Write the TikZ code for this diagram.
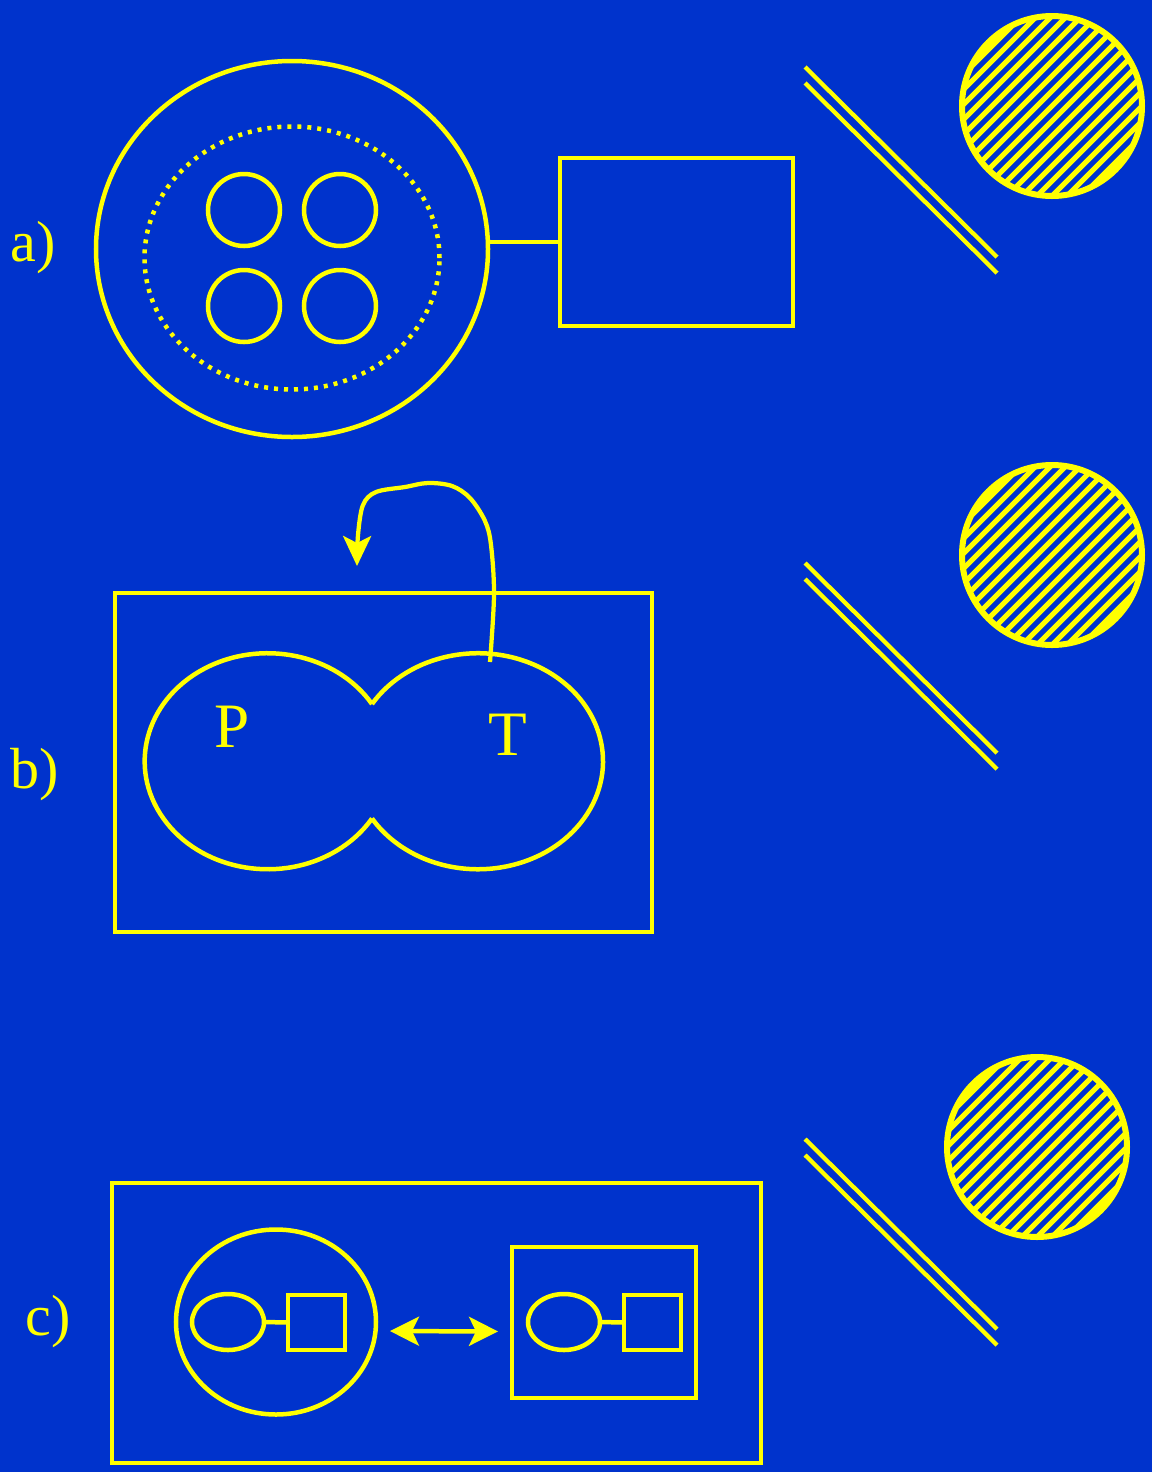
\documentclass[tikz,border=0pt]{standalone}
\usepackage{fontspec}
\setmainfont{Liberation Serif}
\usetikzlibrary{shapes.geometric,arrows.meta}
\definecolor{slideblue}{RGB}{0,51,204}
\definecolor{sunyellow}{RGB}{255,255,0}
\tikzset{
  ln/.style={draw=sunyellow, line width=0.9mm},
  oval/.style={ellipse, ln, inner sep=0pt, outer sep=0pt},
  ring/.style={circle, ln, inner sep=0pt, outer sep=0pt},
  boxed/.style={rectangle, ln, inner sep=0pt, outer sep=0pt},
  lbl/.style={text=sunyellow, font=\fontsize{33}{36}\selectfont},
  big/.style={text=sunyellow, font=\fontsize{36}{40}\selectfont},
  tip/.style={-{Stealth[length=6mm, width=5.6mm, inset=1.4mm]}},
}
\begin{document}
\begin{tikzpicture}[x=0.2mm, y=-0.2mm]
  % fond
  \fill[slideblue] (0,0) rectangle (1152,1472);
  \useasboundingbox (0,0) rectangle (1152,1472);
  % miroirs et disques hachures
  \foreach \dy in {0,496,1072}
    \draw[ln, line width=0.85mm] (805,67+\dy) -- (997,257+\dy)
                                  (805,83+\dy) -- (997,273+\dy);
  \foreach \cx/\cy in {1052/106, 1052/555, 1037/1147} {
    \begin{scope}
      \clip (\cx,\cy) circle (90);
      \foreach \k in {-9,...,9}
        \draw[sunyellow, line width=1mm] (\cx+\k*15-110,\cy+110) -- ++(220,-220);
    \end{scope}
    \draw[ln, line width=1.2mm] (\cx,\cy) circle (90);
  }
  % a)
  \node[lbl] (la) at (33,248) {a)};
  \node[oval, minimum width=78.4mm, minimum height=75.2mm] (cell) at (292,249) {};
  \node[oval, dash pattern=on 0.8mm off 1.2mm, minimum width=59mm, minimum height=52.6mm] (nuc) at (292,258) {};
  \foreach \n/\x/\y in {c1/244/210, c2/340/210, c3/244/306, c4/340/306}
    \node[ring, minimum size=14.4mm] (\n) at (\x,\y) {};
  \node[boxed, minimum width=46.6mm, minimum height=33.6mm] (store) at (676.5,242) {};
  \draw[ln] (cell.east |- store.west) -- (store.west);
  % b)
  \node[lbl] (lb) at (35,775) {b)};
  \node[boxed, minimum width=107.4mm, minimum height=67.8mm] (frame) at (383.5,762.5) {};
  \draw[ln] (372,704) arc[start angle=-32, end angle=-328, x radius=123, y radius=108];
  \draw[ln] (372,704) arc[start angle=-148, end angle=148, x radius=125, y radius=108];
  \node[big] (plab) at (232,727) {P};
  \node[big] (tlab) at (508,735) {T};
  \coordinate (tstart) at (490,662);
  \coordinate (tend) at (357,566);
  \draw[ln, line width=0.85mm, tip] plot[smooth, tension=0.55] coordinates {
    (tstart) (494,595) (491,545) (485,521) (470,498) (452,486) (428,483)
    (405,487) (376,492) (363,505) (358,535) (tend)};
  % c)
  \node[lbl] (lc) at (48,1322) {c)};
  \node[boxed, minimum width=129.8mm, minimum height=56mm] (outer) at (436.5,1323) {};
  \node[oval, minimum width=40mm, minimum height=37mm] (cellc) at (276,1322) {};
  \node[oval, minimum width=14.4mm, minimum height=11.2mm] (e1) at (228,1322) {};
  \node[boxed, minimum width=11.4mm, minimum height=11mm] (s1) at (316.5,1322.5) {};
  \draw[ln] (e1.east) -- (s1.west);
  \node[boxed, minimum width=36.8mm, minimum height=30.2mm] (box) at (604,1322.5) {};
  \node[oval, minimum width=14.4mm, minimum height=11.2mm] (e2) at (564,1322) {};
  \node[boxed, minimum width=11.4mm, minimum height=11mm] (s2) at (652.5,1322.5) {};
  \draw[ln] (e2.east) -- (s2.west);
  \draw[ln, line width=0.9mm, {Stealth[length=5.8mm, width=5.8mm, inset=1.4mm]}-{Stealth[length=5.8mm, width=5.8mm, inset=1.4mm]},
        shorten <=2.8mm, shorten >=2.8mm]
    ([yshift=-1.8mm]cellc.east) -- ([yshift=-1.8mm]box.west);
\end{tikzpicture}
\end{document}
